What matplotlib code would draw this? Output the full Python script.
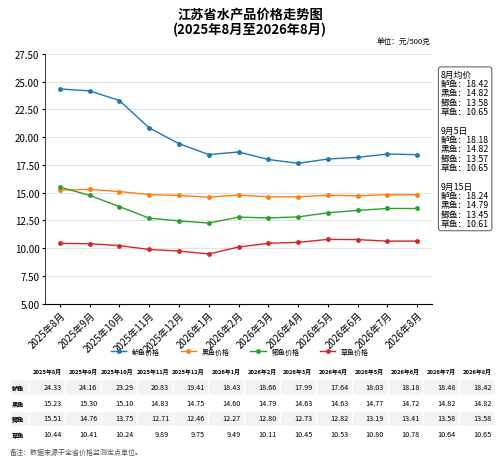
import matplotlib
matplotlib.use("Agg")
import matplotlib.pyplot as plt

plt.rcParams['font.family'] = ['Noto Sans CJK SC', 'DejaVu Sans']

months = ["2025年8月", "2025年9月", "2025年10月", "2025年11月", "2025年12月", "2026年1月",
          "2026年2月", "2026年3月", "2026年4月", "2026年5月", "2026年6月", "2026年7月", "2026年8月"]
names = ["鲈鱼", "黑鱼", "鲫鱼", "草鱼"]
luyu = [24.33, 24.16, 23.29, 20.83, 19.41, 18.43, 18.66, 17.99, 17.64, 18.03, 18.18, 18.48, 18.42]
heiyu = [15.23, 15.30, 15.10, 14.83, 14.75, 14.60, 14.79, 14.63, 14.63, 14.77, 14.72, 14.82, 14.82]
jiyu = [15.51, 14.76, 13.75, 12.71, 12.46, 12.27, 12.80, 12.73, 12.82, 13.19, 13.41, 13.58, 13.58]
caoyu = [10.44, 10.41, 10.24, 9.89, 9.75, 9.49, 10.11, 10.45, 10.53, 10.80, 10.78, 10.64, 10.65]
series = [luyu, heiyu, jiyu, caoyu]
colors = ["#1f77b4", "#ff7f0e", "#2ca02c", "#d62728"]
note_text = ("8月均价\n鲈鱼：18.42\n黑鱼：14.82\n鲫鱼：13.58\n草鱼：10.65\n\n"
             "9月5日\n鲈鱼：18.18\n黑鱼：14.82\n鲫鱼：13.57\n草鱼：10.65\n\n"
             "9月15日\n鲈鱼：18.24\n黑鱼：14.79\n鲫鱼：13.45\n草鱼：10.61")

fig = plt.figure(figsize=(5, 4.64), dpi=100)
fig.text(0.5, 0.985, "江苏省水产品价格走势图\n(2025年8月至2026年8月)", ha="center", va="top",
         fontsize=9.5, fontweight="bold", linespacing=1.2)
fig.text(0.86, 0.905, "单位：元/500克", ha="right", fontsize=5.5)

ax = fig.add_axes([0.09, 0.343, 0.774, 0.539])
x = list(range(len(months)))
lines = []
for s, n, c in zip(series, names, colors):
    l, = ax.plot(x, s, color=c, marker="o", markersize=2.5, linewidth=1, label=n + "价格")
    lines.append(l)
ax.set_ylim(5, 27.5)
ax.set_yticks([5 + 2.5 * i for i in range(10)])
ax.set_yticklabels(["%.2f" % (5 + 2.5 * i) for i in range(10)], fontsize=7)
ax.set_xlim(-0.5, 12.5)
ax.set_xticks(x)
ax.set_xticklabels(months, rotation=45, ha="right", rotation_mode="anchor", fontsize=7)
ax.grid(axis="y", color="#dddddd", linewidth=0.6)
for sp in ["top", "right"]:
    ax.spines[sp].set_visible(False)
ax.spines["left"].set_color("#444444")
ax.tick_params(length=2, pad=2)
fig.legend(handles=lines, loc="center", bbox_to_anchor=(0.48, 0.24), ncol=4, frameon=False,
           fontsize=5, handlelength=2.2, columnspacing=3)

fig.text(0.882, 0.848, note_text, ha="left", va="top", fontsize=6.3, linespacing=1.05,
         bbox=dict(boxstyle="round,pad=0.3", fc="white", ec="#555555", lw=0.7))

tax = fig.add_axes([0.02, 0.045, 0.97, 0.17])
tax.axis("off")
cell_text = [[""] + months] + [[n] + ["%.2f" % v for v in s] for n, s in zip(names, series)]
tbl = tax.table(cellText=cell_text, loc="upper center", cellLoc="right", bbox=[0, 0, 1, 1],
                colWidths=[0.04] + [0.96 / 13] * 13)
tbl.auto_set_font_size(False)
tbl.set_fontsize(5.2)
for (r, c), cell in tbl.get_celld().items():
    cell.set_edgecolor("white")
    if r == 0:
        cell.set_text_props(fontsize=4.2, fontweight="bold")
        cell.set_facecolor("white")
    else:
        cell.set_facecolor("#f3f3f3" if r % 2 == 1 else "white")
    if c == 0:
        cell.set_text_props(fontweight="bold", fontsize=4.5, ha="left")
fig.text(0.02, 0.02, "备注：数据来源于全省价格监测定点单位。", fontsize=5, color="#555555")

fig.savefig("out.png", dpi=100)
